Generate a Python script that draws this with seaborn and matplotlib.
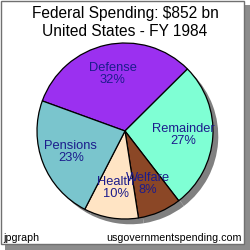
import matplotlib
matplotlib.use("Agg")
import matplotlib.pyplot as plt
import seaborn as sns
from matplotlib.patches import Rectangle

categories = ["Defense", "Remainder", "Welfare", "Health", "Pensions"]
shares = [32, 27, 8, 10, 23]
colors = ["#9b30f0", "#7fffd4", "#8b4726", "#ffe4c4", "#7ac5cd"]
title_lines = ["Federal Spending: $852 bn", "United States - FY 1984"]
footer_left = "jpgraph"
footer_right = "usgovernmentspending.com"

sns.set_style("white")
plt.rcParams['font.family'] = ['Liberation Sans', 'DejaVu Sans']

W = H = 250
fig = plt.figure(figsize=(2.5, 2.5), dpi=100)
fig.patch.set_facecolor("white")

# frame with drop shadow
fig.patches.append(Rectangle((5 / W, 0), 245 / W, 245 / H, transform=fig.transFigure,
                             facecolor="#8c8c8c", edgecolor="none", zorder=-2))
fig.patches.append(Rectangle((0.5 / W, 6.5 / H), 243 / W, 243 / H, transform=fig.transFigure,
                             facecolor="white", edgecolor="#707070", lw=1, zorder=-1))

cx, cy, R = 125, 131, 88
ax = fig.add_axes([30 / W, 1 - 235 / H, 200 / W, 200 / H])
ax.set_facecolor("none")
ax.set_zorder(1)

# shadow pie
ax.pie(shares, colors=["#808080"] * len(shares), startangle=160, counterclock=False,
       center=(0.06, -0.06), wedgeprops=dict(linewidth=0))
wedges, texts = ax.pie(shares, colors=colors, startangle=160, counterclock=False,
                       labels=[f"{c}\n{v}%" for c, v in zip(categories, shares)],
                       labeldistance=0.66,
                       wedgeprops=dict(edgecolor="black", linewidth=0.9))
for t in texts:
    t.set_ha("center")
    t.set_va("center")
    t.set_color("#1c1c8c")
    t.set_fontsize(9.3)
    t.set_linespacing(1.0)

ax.set_xlim((30 - cx) / R, (230 - cx) / R)
ax.set_ylim((cy - 235) / R, (cy - 35) / R)
ax.set_aspect("equal")
ax.axis("off")

fig.text(0.5, 1 - 13.5 / H, title_lines[0], ha="center", va="center", fontsize=11.2, color="black", zorder=3)
fig.text(0.5, 1 - 31 / H, title_lines[1], ha="center", va="center", fontsize=11.2, color="black", zorder=3)
fig.text(3 / W, 1 - 238 / H, footer_left, ha="left", va="center", fontsize=7.7, color="black", zorder=3)
fig.text(242 / W, 1 - 238 / H, footer_right, ha="right", va="center", fontsize=7.7, color="black", zorder=3)

fig.savefig("out.png", dpi=100)
